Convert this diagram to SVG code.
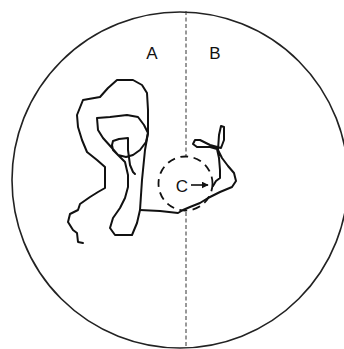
<svg xmlns="http://www.w3.org/2000/svg" width="344" height="349" viewBox="0 0 344 349">
<defs>
<style>
.arena{fill:none;stroke:#222;stroke-width:1.6}
.divider{fill:none;stroke:#333;stroke-width:1;stroke-dasharray:4 2.5}
.zone{fill:none;stroke:#111;stroke-width:1.8;stroke-dasharray:8 5.5}
.track{fill:none;stroke:#111;stroke-width:2;stroke-linejoin:round;stroke-linecap:round}
.lbl{font-family:"Liberation Sans",Arial,sans-serif;font-size:17px;fill:#111;text-anchor:middle}
</style>
<marker id="ah" viewBox="0 0 10 10" refX="9" refY="5" markerWidth="7" markerHeight="7" markerUnits="userSpaceOnUse" orient="auto">
<path d="M0,0 L10,5 L0,10 z" fill="#111"/>
</marker>
</defs>
<rect width="344" height="349" fill="#fff"/>
<g id="arena">
<circle class="arena" cx="180" cy="180" r="168"/>
</g>
<g id="divider">
<line class="divider" x1="186" y1="11" x2="186" y2="156"/>
<line class="divider" x1="186" y1="212" x2="186" y2="348"/>
</g>
<g id="zoneC">
<circle class="zone" cx="185.5" cy="183.5" r="27"/>
</g>
<g id="labels">
<text class="lbl" x="152" y="59">A</text>
<text class="lbl" x="215" y="59">B</text>
<text class="lbl" x="182" y="192">C</text>
</g>
<g id="connectors">
<line x1="191" y1="185" x2="208" y2="185" stroke="#111" stroke-width="1.6" marker-end="url(#ah)"/>
<path class="track" d="M83,243 L78,242 L77,233 L73,230 L68,222 L70,214 L78,210 L80,204 L90,197 L98,192 L105,188 L105,167 L97,160 L87,152 L82,140 L78,127 L77,115 L83,100 L100,97 L108,88 L117,80 L133,80 L142,85 L147,93 L148,110 L148,133 L145,150 L142,180 L140,210"/>
<path class="track" d="M140,210 L137,223 L132,235 L115,235 L110,228 L113,218 L120,208 L125,198 L128,187 L128,175 L125,162 L118,155 L112,148 L103,138 L98,130 L97,118 L110,117 L127,115 L138,117 L144,125 L148,133 L146,142 L140,150 L133,155 L126,157 L118,155 L113,150 L112,145 L113,141 L119,139 L128,138 L128,150 L130,165 L133,172 L135,174"/>
<path class="track" d="M140,210 L160,211 L178,213 L183,210 L190,207 L200,203 L208,198 L220,192 L232,187 L236,181 L234,173 L228,166 L222,158 L218,150 L219,135 L221,126 L224,127 L224,140 L221,148 L210,145 L200,140 L195,140 L193,144 L197,147 L210,147 L217,149 L219,158 L220,170 L220,178 L216,181 L213,186"/>
</g>
</svg>
